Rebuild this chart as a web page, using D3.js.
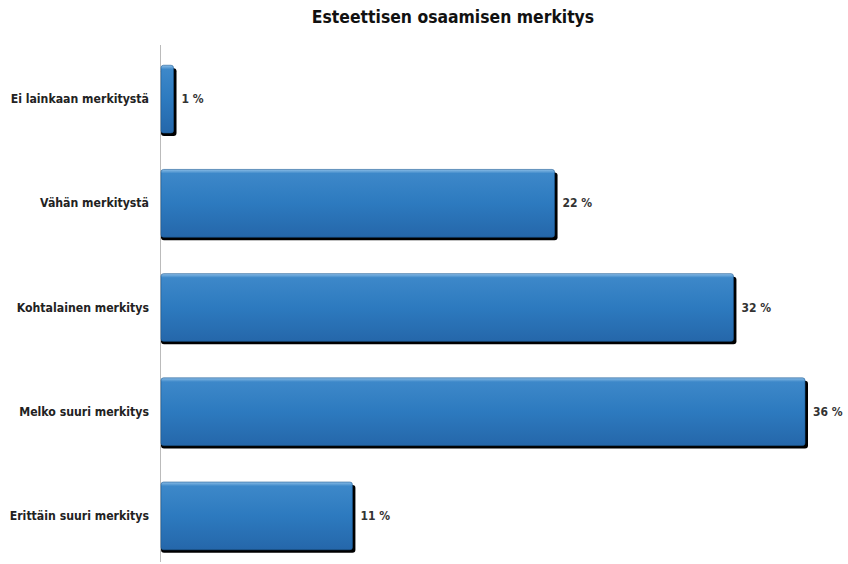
<!DOCTYPE html>
<html><head><meta charset="utf-8">
<script src="https://cdn.jsdelivr.net/npm/d3@7"></script>
<style>body{margin:0;background:#fff}</style>
</head><body>
<svg id="c" width="848" height="564"></svg>
<script>
const title = "Esteettisen osaamisen merkitys";
const categories = ["Ei lainkaan merkitystä","Vähän merkitystä","Kohtalainen merkitys","Melko suuri merkitys","Erittäin suuri merkitys"];
const values = [0.7, 22, 32, 36, 10.7];
const valueLabels = ["1 %","22 %","32 %","36 %","11 %"];

const svg = d3.select("#c");
const font = "'DejaVu Sans Condensed','DejaVu Sans',sans-serif";
const x = d3.scaleLinear().domain([0, 36]).range([161, 805]);
const y = d3.scaleBand().domain(categories).range([47, 568]).paddingInner(0.35).paddingOuter(0.175);

const defs = svg.append("defs");
const g = defs.append("linearGradient").attr("id","bg").attr("x1",0).attr("y1",0).attr("x2",0).attr("y2",1);
g.append("stop").attr("offset","0%").attr("stop-color","#8bbde6");
g.append("stop").attr("offset","6%").attr("stop-color","#3d88c9");
g.append("stop").attr("offset","50%").attr("stop-color","#2d7abf");
g.append("stop").attr("offset","100%").attr("stop-color","#2567aa");
const f = defs.append("filter").attr("id","blur").attr("x","-10%").attr("y","-10%").attr("width","130%").attr("height","130%");
f.append("feGaussianBlur").attr("stdDeviation",0.7);

svg.append("text").attr("x",453).attr("y",23).attr("text-anchor","middle")
  .attr("font-family",font).attr("font-weight","bold").attr("font-size",17.4).attr("fill","#111").text(title);

// axis line
svg.append("line").attr("x1",160.5).attr("x2",160.5).attr("y1",45).attr("y2",562).attr("stroke","#bbb").attr("stroke-width",1);

const bars = svg.append("g").selectAll("g").data(categories).join("g");
// shadow
bars.append("rect")
  .attr("x", x(0))
  .attr("y", d => y(d) + 3)
  .attr("width", (d,i) => x(values[i]) - x(0) + 3)
  .attr("height", y.bandwidth())
  .attr("rx",3).attr("fill","#050505").attr("filter","url(#blur)");
bars.append("rect")
  .attr("x", x(0))
  .attr("y", d => y(d))
  .attr("width", (d,i) => x(values[i]) - x(0))
  .attr("height", y.bandwidth())
  .attr("rx",2.5).attr("fill","url(#bg)").attr("stroke","#1d5a96").attr("stroke-width",0.6);

// value labels
bars.append("text")
  .attr("x", (d,i) => x(values[i]) + 8)
  .attr("y", d => y(d) + y.bandwidth()/2 + 4)
  .attr("font-family",font).attr("font-weight","bold").attr("font-size",12).attr("fill","#333")
  .text((d,i) => valueLabels[i]);

// category labels
svg.append("g").selectAll("text").data(categories).join("text")
  .attr("x",149).attr("y", d => y(d) + y.bandwidth()/2 + 4)
  .attr("text-anchor","end")
  .attr("font-family",font).attr("font-size",12.2).attr("fill","#222").attr("font-weight","600")
  .text(d => d);
</script>
</body></html>
